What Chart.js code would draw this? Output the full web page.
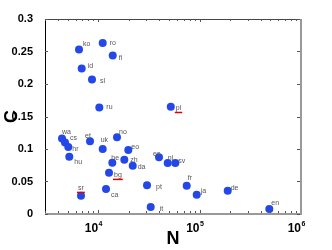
<!DOCTYPE html>
<html>
<head>
<meta charset="utf-8">
<script src="https://cdn.jsdelivr.net/npm/chart.js@4/dist/chart.umd.min.js"></script>
<style>
  html, body { margin: 0; padding: 0; background: #fff; }
</style>
</head>
<body>
<canvas id="chart" width="332" height="250"></canvas>
<script>
// language editions
var languages = ['ko', 'ro', 'fi', 'id', 'sl', 'ru', 'pl', 'wa', 'cs', 'hr',
                 'hu', 'et', 'uk', 'no', 'eo', 'he', 'zh', 'da', 'bg', 'ca',
                 'sr', 'pt', 'it', 'es', 'nl', 'sv', 'fr', 'ja', 'de', 'en'];
// N (network size)
var sizes = [6490, 11110, 13950, 6900, 8715, 10290, 52100, 4413, 4723, 5090,
             5207, 8330, 11110, 15370, 19870, 13820, 18150, 21960, 12820, 11980,
             6790, 30370, 33030, 39870, 48580, 57720, 74760, 93800, 189600, 487300];
// C (clustering)
var clustering = [0.253, 0.263, 0.244, 0.224, 0.207, 0.164, 0.165, 0.116, 0.110, 0.103,
                  0.088, 0.112, 0.100, 0.118, 0.0985, 0.079, 0.0836, 0.0743, 0.0636, 0.0385,
                  0.0282, 0.0441, 0.0108, 0.0872, 0.0785, 0.0785, 0.0436, 0.0297, 0.0358, 0.0077];
// labels marked with a red underline
var flagged = ['pl', 'bg', 'sr', 'it'];

var xTicks = [1e4, 1e5, 1e6];
var yTicks = [0, 0.05, 0.1, 0.15, 0.2, 0.25, 0.3];

// where each text label sits relative to its dot (px)
var labelOffsets = {
  ko: [4, -5], ro: [7, 0], fi: [6, 3], id: [6, -2], sl: [8, 2], ru: [7, 0],
  pl: [5, 1], wa: [0, -7], cs: [5, -4], hr: [4, 2], hu: [5, 5], et: [-5, -5],
  uk: [-2, -9], no: [2, -5], eo: [3, -3], he: [-1, -5], zh: [6, 0], da: [5, 1],
  bg: [5, 2], ca: [5, 6], sr: [-3, -8], pt: [9, 2], it: [9, 2], es: [-6, -3],
  nl: [0, -5], sv: [3, -2], fr: [1, -8], ja: [4, -4], de: [3, -3], en: [2, -6]
};

var points = [];
for (var i = 0; i < languages.length; i++) {
  points.push({ x: sizes[i], y: clustering[i] });
}

var framePlugin = {
  id: 'frame',
  afterDatasetsDraw: function(chart) {
    var ctx = chart.ctx;
    var meta = chart.getDatasetMeta(0);

    // point labels
    ctx.save();
    ctx.font = '7px "Liberation Sans", Arial, sans-serif';
    ctx.textBaseline = 'middle';
    ctx.textAlign = 'left';
    for (var i = 0; i < languages.length; i++) {
      var el = meta.data[i];
      var off = labelOffsets[languages[i]] || [4, -4];
      var tx = el.x + off[0];
      var ty = el.y + off[1];
      ctx.fillStyle = '#555';
      ctx.fillText(languages[i], tx, ty);
      if (flagged.indexOf(languages[i]) >= 0) {
        var w = ctx.measureText(languages[i]).width;
        ctx.fillStyle = '#e00000';
        ctx.fillRect(tx - 1, ty + 4, w + 2, 1.5);
      }
    }
    ctx.restore();
  },
  afterDraw: function(chart) {
    var ctx = chart.ctx;
    var a = chart.chartArea;
    var xs = chart.scales.x;
    var ys = chart.scales.y;
    ctx.save();

    // box
    ctx.lineWidth = 1;
    ctx.strokeStyle = '#444';
    ctx.beginPath(); ctx.moveTo(a.left, a.top + 0.5); ctx.lineTo(a.right, a.top + 0.5); ctx.stroke();
    ctx.strokeStyle = '#000';
    ctx.beginPath(); ctx.moveTo(a.left + 0.5, a.top); ctx.lineTo(a.left + 0.5, a.bottom); ctx.stroke();
    ctx.lineWidth = 2;
    ctx.strokeStyle = '#999';
    ctx.beginPath(); ctx.moveTo(a.left, a.bottom); ctx.lineTo(a.right + 1, a.bottom); ctx.stroke();
    ctx.beginPath(); ctx.moveTo(a.right, a.top); ctx.lineTo(a.right, a.bottom); ctx.stroke();

    // inner ticks on x (top and bottom)
    ctx.lineWidth = 1;
    ctx.strokeStyle = '#555';
    for (var e = 3; e <= 5; e++) {
      for (var m = 1; m <= 9; m++) {
        var v = m * Math.pow(10, e);
        if (v < xs.min || v > xs.max) continue;
        var px = Math.round(xs.getPixelForValue(v)) + 0.5;
        var len = m === 1 ? 3 : 2;
        ctx.beginPath(); ctx.moveTo(px, a.bottom - 1); ctx.lineTo(px, a.bottom - 1 - len); ctx.stroke();
        ctx.beginPath(); ctx.moveTo(px, a.top); ctx.lineTo(px, a.top + len); ctx.stroke();
      }
    }
    // inner ticks on y (left and right)
    for (var k = 0; k < yTicks.length; k++) {
      var py = Math.round(ys.getPixelForValue(yTicks[k])) + 0.5;
      ctx.beginPath(); ctx.moveTo(a.left, py); ctx.lineTo(a.left + 3, py); ctx.stroke();
      ctx.beginPath(); ctx.moveTo(a.right - 1, py); ctx.lineTo(a.right - 4, py); ctx.stroke();
    }

    // x tick labels 10^k
    ctx.fillStyle = '#000';
    ctx.textBaseline = 'alphabetic';
    for (var t = 0; t < xTicks.length; t++) {
      var x = xs.getPixelForValue(xTicks[t]);
      var exp = String(Math.round(Math.log10(xTicks[t])));
      ctx.font = 'bold 12px "Liberation Sans", Arial, sans-serif';
      ctx.textAlign = 'right';
      ctx.fillText('10', x, a.bottom + 18);
      ctx.font = 'bold 7px "Liberation Sans", Arial, sans-serif';
      ctx.textAlign = 'left';
      ctx.fillText(exp, x + 0.5, a.bottom + 12);
    }
    ctx.restore();
  }
};

new Chart(document.getElementById('chart'), {
  type: 'scatter',
  data: {
    datasets: [{
      data: points,
      backgroundColor: '#2447e8',
      borderWidth: 0,
      pointRadius: 4,
      pointHoverRadius: 4
    }]
  },
  options: {
    responsive: false,
    animation: false,
    devicePixelRatio: 1,
    layout: { autoPadding: false, padding: { top: 19, right: 31, left: 0, bottom: 0 } },
    plugins: { legend: { display: false }, tooltip: { enabled: false } },
    scales: {
      x: {
        type: 'logarithmic',
        min: 3000,
        max: 1e6,
        grid: { display: false },
        border: { display: false },
        ticks: { display: false },
        title: {
          display: true, text: 'N', color: '#000',
          font: { family: '"Liberation Sans", Arial, sans-serif', size: 18, weight: 'bold' },
          padding: { top: 0, bottom: 0 }
        },
        afterFit: function(scale) { scale.height = 36; }
      },
      y: {
        min: 0,
        max: 0.3,
        grid: { display: false },
        border: { display: false },
        afterBuildTicks: function(scale) {
          scale.ticks = yTicks.map(function(v) { return { value: v }; });
        },
        ticks: {
          color: '#000',
          padding: 4,
          font: { family: '"Liberation Sans", Arial, sans-serif', size: 11, weight: 'bold' },
          callback: function(v) { return String(+v.toFixed(2)); }
        },
        title: {
          display: true, text: 'C', color: '#000',
          font: { family: '"Liberation Sans", Arial, sans-serif', size: 18, weight: 'bold' },
          padding: { top: 1, bottom: 0 }
        },
        afterFit: function(scale) { scale.width = 45; }
      }
    }
  },
  plugins: [framePlugin]
});
</script>
</body>
</html>
